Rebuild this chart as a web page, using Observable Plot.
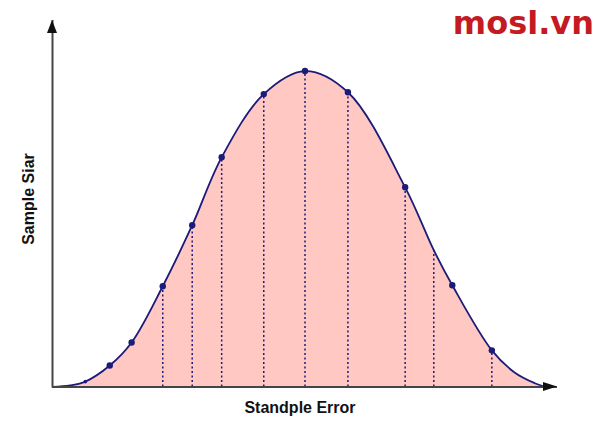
<!DOCTYPE html>
<html>
<head>
<meta charset="utf-8">
<script src="https://cdn.jsdelivr.net/npm/d3@7"></script>
<script src="https://cdn.jsdelivr.net/npm/@observablehq/plot@0.6"></script>
<style>
  html, body { margin: 0; padding: 0; background: #fff; }
  #chart svg { display: block; }
</style>
</head>
<body>
<div id="chart"></div>
<script>
// Curve outline (standard-error units vs. relative sample density)
const curveX = [-3, -2.79, -2.61, -2.32, -2.06, -1.69, -1.34, -0.99, -0.49, 0, 0.51, 1.19, 1.53, 1.75, 2.22, 2.49, 2.73, 2.86];
const curveY = [0, 0.005, 0.017, 0.068, 0.141, 0.319, 0.512, 0.727, 0.927, 1, 0.933, 0.632, 0.433, 0.322, 0.116, 0.046, 0.012, 0];

// Marked points on the curve
const pointX = [-2.61, -2.32, -2.06, -1.69, -1.34, -0.99, -0.49, 0, 0.51, 1.19, 1.75, 2.22];
const pointY = [0.017, 0.068, 0.141, 0.319, 0.512, 0.727, 0.927, 1, 0.933, 0.632, 0.322, 0.116];

// Dotted drop lines
const dropX = [-1.69, -1.34, -0.99, -0.49, 0, 0.51, 1.19, 1.53, 2.22];
const dropY = [0.319, 0.512, 0.727, 0.927, 1, 0.933, 0.632, 0.433, 0.116];

const xDomain = [-3, 3];
const yDomain = [0, 1.16];

const xLabel = "Standple Error";
const yLabel = "Sample Siar";
const logo = "mosl.vn";

const curve = curveX.map((x, i) => ({x, y: curveY[i]}));
const points = pointX.map((x, i) => ({x, y: pointY[i], i}));
const drops = dropX.map((x, i) => ({x, y: dropY[i]}));

const navy = "#1b1b7a";
const axisColor = "#454545";

const chart = Plot.plot({
  width: 600,
  height: 429,
  marginLeft: 52,
  marginRight: 43,
  marginTop: 20,
  marginBottom: 42.5,
  x: {domain: xDomain, axis: null},
  y: {domain: yDomain, axis: null},
  style: {background: "#fff"},
  marks: [
    Plot.areaY(curve, {x: "x", y: "y", fill: "#ffc8c2", curve: "catmull-rom"}),
    Plot.ruleX(drops, {x: "x", y1: 0, y2: "y", stroke: navy, strokeWidth: 1.5, strokeDasharray: "2,2.5"}),
    Plot.lineY(curve, {x: "x", y: "y", stroke: navy, strokeWidth: 1.8, curve: "catmull-rom"}),
    Plot.ruleY([0], {stroke: axisColor, strokeWidth: 2}),
    Plot.ruleX([xDomain[0]], {y1: yDomain[0], y2: yDomain[1], stroke: axisColor, strokeWidth: 2}),
    Plot.dot(points.filter(d => d.i > 0), {x: "x", y: "y", r: 3.2, fill: navy}),
    Plot.dot(points.filter(d => d.i === 0), {x: "x", y: "y", r: 1.8, fill: navy})
  ]
});

document.getElementById("chart").appendChild(chart);

const sx = chart.scale("x"), sy = chart.scale("y");
const svg = d3.select(chart);
const x0 = sx.apply(xDomain[0]), x1 = sx.apply(xDomain[1]);
const y0 = sy.apply(yDomain[0]), y1 = sy.apply(yDomain[1]);

// arrowheads
svg.append("path")
  .attr("d", `M${x1},${y0} L${x1 - 14},${y0 - 4.5} L${x1 - 14},${y0 + 4.5} Z`)
  .attr("fill", "#111");
svg.append("path")
  .attr("d", `M${x0},${y1} L${x0 - 5},${y1 + 13} L${x0 + 5},${y1 + 13} Z`)
  .attr("fill", "#111");

// labels
svg.append("text")
  .attr("x", 300).attr("y", 413)
  .attr("text-anchor", "middle")
  .attr("font-family", "'Liberation Sans', Arial, sans-serif")
  .attr("font-weight", "bold")
  .attr("font-size", 16)
  .attr("fill", "#111")
  .text(xLabel);

svg.append("text")
  .attr("transform", "translate(34,199) rotate(-90)")
  .attr("text-anchor", "middle")
  .attr("font-family", "'Liberation Sans', Arial, sans-serif")
  .attr("font-weight", "bold")
  .attr("font-size", 16)
  .attr("fill", "#111")
  .text(yLabel);

svg.append("text")
  .attr("x", 594).attr("y", 34)
  .attr("text-anchor", "end")
  .attr("font-family", "'DejaVu Sans', sans-serif")
  .attr("font-weight", "bold")
  .attr("font-size", 32)
  .attr("fill", "#c41a22")
  .text(logo);
</script>
</body>
</html>
